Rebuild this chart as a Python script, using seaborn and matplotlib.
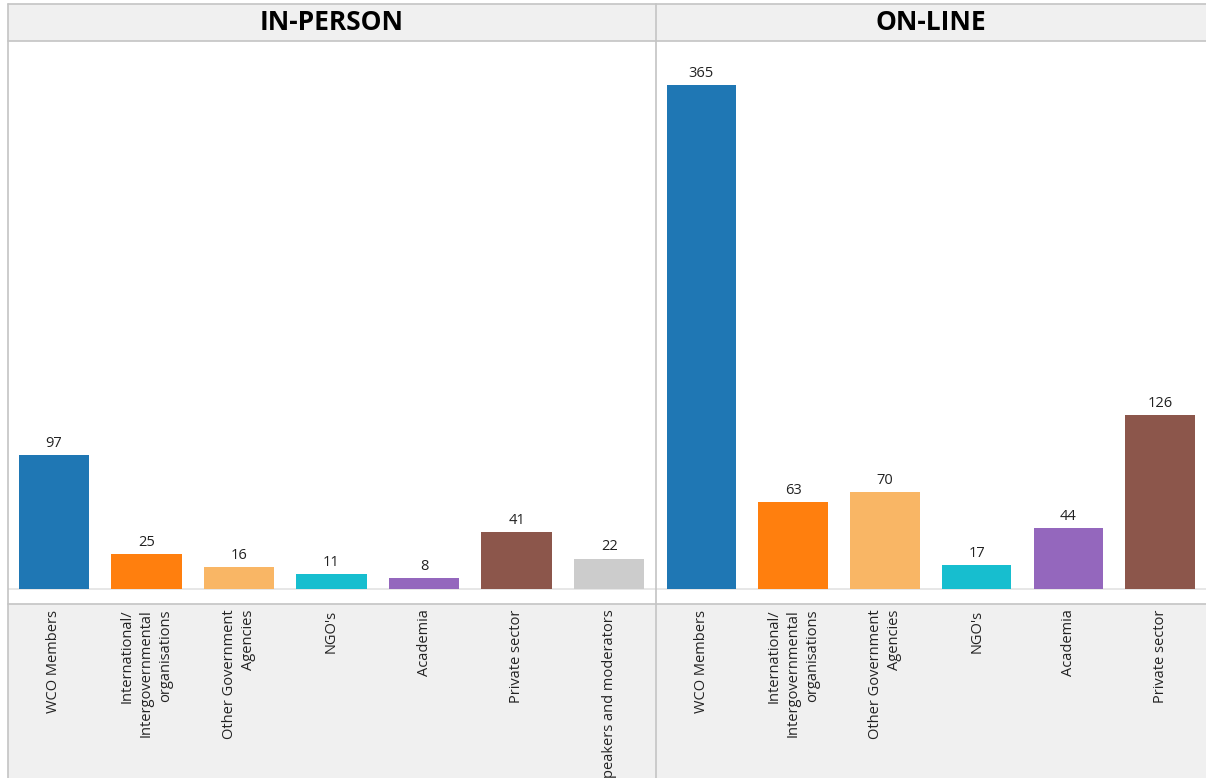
import matplotlib
matplotlib.use("Agg")
import matplotlib.pyplot as plt
import seaborn as sns
from matplotlib.lines import Line2D

sns.set_theme(style="white")
plt.rcParams['font.family'] = ['Open Sans', 'DejaVu Sans']

# ---- data ----
inperson_cats = ["WCO Members", "International/\nIntergovernmental\norganisations",
                 "Other Government\nAgencies", "NGO's", "Academia", "Private sector",
                 "Speakers and moderators"]
inperson_vals = [97, 25, 16, 11, 8, 41, 22]
online_cats = ["WCO Members", "International/\nIntergovernmental\norganisations",
               "Other Government\nAgencies", "NGO's", "Academia", "Private sector"]
online_vals = [365, 63, 70, 17, 44, 126]
panel_titles = ["IN-PERSON", "ON-LINE"]

palette = {
    "WCO Members": "#1f77b4",
    "International/\nIntergovernmental\norganisations": "#ff7f0e",
    "Other Government\nAgencies": "#f9b665",
    "NGO's": "#17becf",
    "Academia": "#9467bd",
    "Private sector": "#8c564b",
    "Speakers and moderators": "#cccccc",
}

W, H = 1206, 778
fig = plt.figure(figsize=(W / 100, H / 100), dpi=100)
fig.patch.set_facecolor("white")

def fx(px):
    return px / W

def fy(py):
    return 1 - py / H

header_top, header_bot = 4, 41
bars_bot = 604
panels = [(7.5, 655.5), (655.5, 1206)]
ymax = 396.8
ymin = -10.9
border = "#c4c4c4"
band = "#f0f0f0"

for (x0, x1), cats, vals, title in zip(panels, [inperson_cats, online_cats],
                                       [inperson_vals, online_vals], panel_titles):
    n = len(cats)
    # header
    axh = fig.add_axes([fx(x0), fy(header_bot), fx(x1) - fx(x0), fy(header_top) - fy(header_bot)])
    axh.set_facecolor(band)
    axh.set_xticks([]); axh.set_yticks([])
    for s in axh.spines.values():
        s.set_visible(False)
    axh.text(0.5, 0.5, title, transform=axh.transAxes, ha="center", va="center",
             fontsize=19, fontweight="bold", color="#000000")

    # bars
    ax = fig.add_axes([fx(x0), fy(bars_bot), fx(x1) - fx(x0), fy(header_bot) - fy(bars_bot)])
    sns.barplot(x=cats, y=vals, hue=cats, palette=palette, ax=ax, width=0.76,
                legend=False, saturation=1, dodge=False, linewidth=0)
    ax.set_xlim(-0.5, n - 0.5)
    ax.set_ylim(ymin, ymax)
    ax.set_xticks([]); ax.set_yticks([])
    ax.set_xlabel(""); ax.set_ylabel("")
    for s in ax.spines.values():
        s.set_visible(False)
    ax.axhline(0, color="#e3e3e3", lw=1.2, zorder=0.5)
    for c in ax.containers:
        ax.bar_label(c, padding=3, fontsize=10.5, color="#222222")

    # category labels
    axl = fig.add_axes([fx(x0), 0, fx(x1) - fx(x0), fy(bars_bot)])
    axl.set_facecolor(band)
    axl.set_xlim(-0.5, n - 0.5)
    axl.set_ylim(0, 1)
    axl.set_xticks([]); axl.set_yticks([])
    for s in axl.spines.values():
        s.set_visible(False)
    for i, c in enumerate(cats):
        axl.text(i, 0.968, c, rotation=90, ha="center", va="top",
                 multialignment="right", fontsize=10.5, color="#222222",
                 linespacing=1.4)

# borders
lines = [
    ((fx(7.5), fx(1206)), (fy(header_top), fy(header_top))),
    ((fx(7.5), fx(1206)), (fy(header_bot), fy(header_bot))),
    ((fx(7.5), fx(1206)), (fy(bars_bot), fy(bars_bot))),
    ((fx(7.5), fx(7.5)), (fy(header_top), 0)),
    ((fx(655.5), fx(655.5)), (fy(header_top), 0)),
]
for xs, ys in lines:
    fig.add_artist(Line2D(xs, ys, color=border, lw=1.2, transform=fig.transFigure))

fig.savefig("out.png", dpi=100)
